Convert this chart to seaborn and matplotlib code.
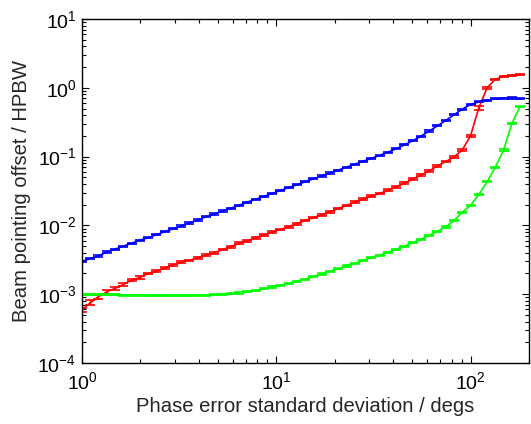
import matplotlib
matplotlib.use("Agg")
import matplotlib.pyplot as plt
import pandas as pd
import seaborn as sns

# Phase error standard deviation (degrees)
phase_err_deg = [
    1.000, 1.103, 1.216, 1.342, 1.480, 1.632, 1.800, 1.986, 2.190, 2.416,
    2.664, 2.939, 3.241, 3.575, 3.943, 4.349, 4.797, 5.291, 5.836, 6.437,
    7.100, 7.831, 8.637, 9.527, 10.51, 11.59, 12.78, 14.10, 15.55, 17.15,
    18.91, 20.86, 23.01, 25.38, 27.99, 30.87, 34.05, 37.56, 41.42, 45.69,
    50.39, 55.58, 61.30, 67.61, 74.57, 82.25, 90.72, 100.0, 110.3, 121.7,
    134.2, 148.0, 163.2, 180.0,
]

# Beam pointing offset / HPBW for the three cases
offset_blue = [
    0.0030, 0.0033, 0.0036, 0.0041, 0.0045, 0.0050, 0.0055, 0.0061, 0.0066, 0.0073,
    0.0081, 0.0089, 0.0098, 0.0108, 0.0120, 0.0133, 0.0146, 0.0162, 0.0178, 0.0196,
    0.0218, 0.0240, 0.0264, 0.0291, 0.0322, 0.0354, 0.0390, 0.0432, 0.0476, 0.0523,
    0.0578, 0.0636, 0.0703, 0.0772, 0.0855, 0.0942, 0.104, 0.116, 0.130, 0.148,
    0.170, 0.198, 0.235, 0.280, 0.335, 0.405, 0.490, 0.570, 0.625, 0.660,
    0.690, 0.705, 0.710, 0.690,
]
offset_red = [
    0.00059, 0.00075, 0.00092, 0.00108, 0.00122, 0.00138, 0.00160, 0.00175, 0.00200, 0.00215,
    0.00240, 0.00265, 0.00290, 0.00310, 0.00340, 0.00370, 0.00400, 0.00445, 0.00490, 0.00550,
    0.00600, 0.00660, 0.00730, 0.00800, 0.00870, 0.00960, 0.0106, 0.0118, 0.0130, 0.0143,
    0.0158, 0.0176, 0.0195, 0.0217, 0.0240, 0.0265, 0.0290, 0.0325, 0.0365, 0.0410,
    0.0470, 0.0540, 0.0620, 0.0730, 0.0850, 0.0980, 0.125, 0.200, 0.510, 1.00,
    1.33, 1.47, 1.52, 1.55,
]
offset_green = [
    0.00100, 0.00099, 0.00099, 0.00098, 0.00098, 0.00097, 0.00097, 0.00097, 0.00096, 0.00096,
    0.00096, 0.00096, 0.00096, 0.00096, 0.00097, 0.00097, 0.00098, 0.00099, 0.00101, 0.00104,
    0.00108, 0.00113, 0.00120, 0.00127, 0.00134, 0.00142, 0.00153, 0.00165, 0.00180, 0.00196,
    0.00215, 0.00235, 0.00257, 0.00282, 0.00308, 0.00338, 0.00370, 0.00405, 0.00450, 0.00500,
    0.00560, 0.00630, 0.00720, 0.00820, 0.00950, 0.0118, 0.0155, 0.0195, 0.0280, 0.0430,
    0.0700, 0.125, 0.300, 0.540,
]

# Relative uncertainty of each point (percent)
err_blue_pct = [
    2, 2, 2, 2, 2, 2, 2, 2, 2, 2, 2, 2, 2, 2, 2, 2, 2, 2, 2, 2,
    2, 2, 2, 2, 2, 2, 2, 2, 2, 2, 2, 2, 2, 2, 2, 2, 2, 2, 2, 2,
    2, 2, 2, 2, 2, 2, 2, 2, 2, 2, 2, 2, 2, 2,
]
err_red_pct = [
    8, 8, 7, 7, 6, 5, 4, 4, 3, 3, 3, 3, 3, 3, 3, 3, 3, 3, 3, 3,
    3, 3, 3, 3, 3, 3, 3, 3, 3, 3, 3, 3, 3, 3, 3, 3, 3, 3, 3, 3,
    3, 3, 3, 3, 3, 3, 3, 3, 6, 3, 2, 2, 2, 2,
]
err_green_pct = [
    2, 2, 2, 2, 2, 2, 2, 2, 2, 2, 2, 2, 2, 2, 2, 2, 2, 2, 2, 2,
    2, 2, 2, 2, 2, 2, 2, 2, 2, 2, 2, 2, 2, 2, 2, 2, 2, 2, 2, 2,
    2, 2, 2, 2, 2, 2, 2, 2, 2, 2, 2, 2, 2, 2,
]

series_colors = {"blue": "#0000ff", "red": "#ff0000", "green": "#00ff00"}
series_values = {"blue": offset_blue, "red": offset_red, "green": offset_green}
series_errors = {"blue": err_blue_pct, "red": err_red_pct, "green": err_green_pct}

frames = []
for name, vals in series_values.items():
    frames.append(pd.DataFrame({"phase": phase_err_deg, "offset": vals,
                                "err_pct": series_errors[name], "series": name}))
df = pd.concat(frames, ignore_index=True)
df["err"] = df["offset"] * df["err_pct"] / 100.0

sns.set_style("ticks")
plt.rcParams["font.family"] = ["Liberation Sans", "DejaVu Sans"]
plt.rcParams["mathtext.default"] = "regular"

fig = plt.figure(figsize=(5.31, 4.24), dpi=100)
ax = fig.add_axes([0.1544, 0.1439, 0.8418, 0.8113])

sns.lineplot(data=df, x="phase", y="offset", hue="series", palette=series_colors,
             estimator=None, sort=False, legend=False, linewidth=1.2, ax=ax)

for name, sub in df.groupby("series", sort=False):
    ax.errorbar(sub["phase"], sub["offset"], yerr=sub["err"], fmt="none",
                ecolor=series_colors[name], elinewidth=1.0, capsize=3.5,
                capthick=1.2)

ax.set_xscale("log")
ax.set_yscale("log")
ax.set_xlim(1, 200)
ax.set_ylim(1e-4, 10)

ax.set_xlabel("Phase error standard deviation / degs", fontsize=14.6, labelpad=3)
ax.set_ylabel("Beam pointing offset / HPBW", fontsize=14.6, labelpad=5)

ax.tick_params(which="both", direction="in", top=True, right=True,
               labelsize=14, width=0.8, colors="black")
ax.tick_params(axis="x", which="major", pad=6)
ax.tick_params(axis="y", which="major", pad=4)
ax.tick_params(which="major", length=5)
ax.tick_params(which="minor", length=3)
for side in ax.spines.values():
    side.set_linewidth(1.0)
    side.set_color("black")

fig.savefig("out.png", dpi=100)
